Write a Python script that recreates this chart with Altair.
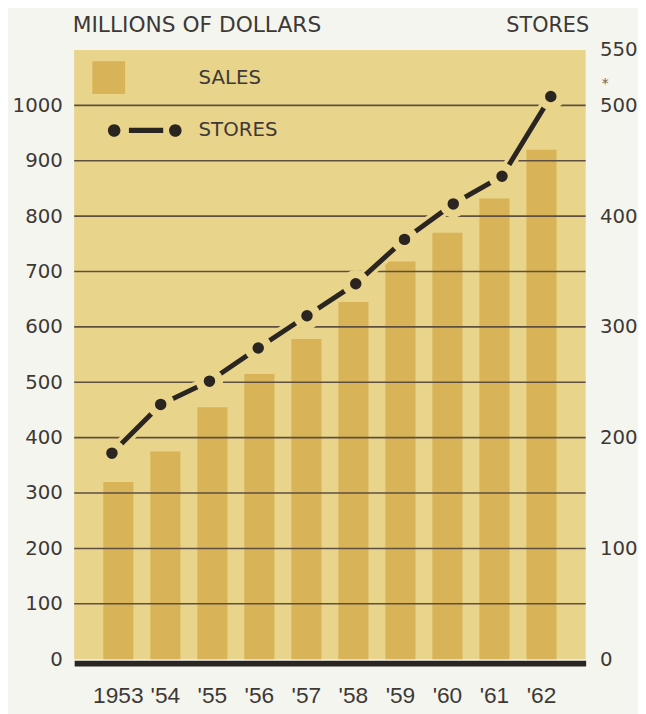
import altair as alt
import pandas as pd

# ---- data ----
years = ["1953", "'54", "'55", "'56", "'57", "'58", "'59", "'60", "'61", "'62"]
sales = [320, 375, 455, 515, 578, 645, 718, 770, 832, 920]          # millions of dollars
stores = [186, 230, 251, 281, 310, 339, 379, 411, 436, 508]         # number of stores
sales_grid = [100, 200, 300, 400, 500, 600, 700, 800, 900, 1000]
sales_ticks = [0, 100, 200, 300, 400, 500, 600, 700, 800, 900, 1000]
store_ticks = [0, 100, 200, 300, 400, 500, 550]
footnote_year = ["'62"]
footnote_value = [508]
footnote_mark = ["*"]

# ---- styling ----
BG = "#E9D48B"
BAR = "#D8B357"
INK = "#2A2521"
GRID = "#5E4F40"
TEXT = "#3E3934"
PAGE = "#F5F5F0"
FONT = "DejaVu Sans"

df = pd.DataFrame({"year": years, "sales": sales, "stores": stores,
                   "s1": ["SALES"] * len(years), "s2": ["STORES"] * len(years)})
grid_df = pd.DataFrame({"v": sales_grid})
note_df = pd.DataFrame({"year": footnote_year, "stores": footnote_value, "t": footnote_mark})

left_axis = alt.Axis(
    orient="left", values=sales_ticks, format="d", title="MILLIONS OF DOLLARS",
    titleAngle=0, titleAlign="left", titleBaseline="alphabetic", titleX=-2, titleY=-19,
    titleFont=FONT, titleFontSize=22, titleFontWeight="normal", titleColor=TEXT,
    grid=False, domain=False, ticks=False, labelPadding=12,
    labelFont=FONT, labelFontSize=20, labelColor=TEXT,
)
sales_scale = alt.Scale(domain=[0, 1100], nice=False, zero=True)

x_band = alt.X(
    "year:N", sort=years,
    scale=alt.Scale(paddingInner=0.36, paddingOuter=0.62),
    axis=alt.Axis(title=None, labelAngle=0, ticks=False, tickSize=0, grid=False,
                  domainColor=INK, domainWidth=6, offset=4,
                  labelPadding=40, labelBaseline="alphabetic",
                  labelFont="Liberation Sans", labelFontSize=23, labelColor=TEXT),
)

bars = alt.Chart(df).mark_bar().encode(
    x=x_band,
    y=alt.Y("sales:Q", scale=sales_scale, axis=left_axis),
    fill=alt.Fill("s1:N", scale=alt.Scale(domain=["SALES"], range=[BAR]),
                  legend=alt.Legend(title=None, orient="none", legendX=18, legendY=11,
                                    symbolType="square", symbolSize=1100, symbolStrokeWidth=0,
                                    labelOffset=74, labelFont=FONT, labelFontSize=20,
                                    labelColor=TEXT, padding=0)),
)

rules = alt.Chart(grid_df).mark_rule(color=GRID, strokeWidth=1.6).encode(
    y=alt.Y("v:Q", scale=sales_scale, axis=left_axis),
)

left = alt.layer(bars, rules)

# ---- stores line ----
right_axis = alt.Axis(
    orient="right", values=store_ticks, title="STORES",
    titleAngle=0, titleAlign="right", titleBaseline="alphabetic", titleX=3, titleY=-19,
    titleFont=FONT, titleFontSize=21, titleFontWeight="normal", titleColor=TEXT,
    grid=False, domain=False, ticks=False, labelPadding=14,
    labelFont=FONT, labelFontSize=20, labelColor=TEXT,
)
y_st = alt.Y("stores:Q", scale=alt.Scale(domain=[0, 550], nice=False, zero=True), axis=right_axis)
x_pt = alt.X("year:N", sort=years, scale=alt.Scale(type="point", padding=0.745, align=0.52), axis=None)

halo_line = alt.Chart(df).mark_line(stroke=BG, strokeWidth=12).encode(x=x_pt, y=y_st)
line = alt.Chart(df).mark_line(stroke=INK, strokeWidth=5, strokeCap="butt").encode(x=x_pt, y=y_st)
halo_pts = alt.Chart(df).mark_point(shape="circle", filled=True, size=760, fill=BG,
                                    strokeWidth=0, opacity=1).encode(x=x_pt, y=y_st)

legend_path = ("M-1,0A0.17,0.17,0,1,0,-0.66,0A0.17,0.17,0,1,0,-1,0Z"
               "M-0.43,-0.07L0.5,-0.07L0.5,0.07L-0.43,0.07Z"
               "M0.66,0A0.17,0.17,0,1,0,1,0A0.17,0.17,0,1,0,0.66,0Z")
pts = alt.Chart(df).mark_circle(size=135, opacity=1).encode(
    x=x_pt, y=y_st,
    color=alt.Color("s2:N", scale=alt.Scale(domain=["STORES"], range=[INK]),
                    legend=alt.Legend(title=None, orient="none", legendX=34, legendY=44,
                                      symbolType=legend_path, symbolSize=5565,
                                      symbolStrokeWidth=0, symbolOpacity=1,
                                      labelOffset=17, labelFont=FONT, labelFontSize=20,
                                      labelColor=TEXT, padding=0)),
)
note = alt.Chart(note_df).mark_text(dx=55, dy=-13, fontSize=14, font=FONT, color="#6E6356").encode(
    x=x_pt, y=y_st, text="t:N")

right = alt.layer(halo_line, line, halo_pts, pts, note)

chart = alt.layer(left, right).resolve_scale(y="independent", x="independent").properties(
    width=518, height=617,
    padding={"left": 67, "top": 38, "right": 53, "bottom": 51},
    autosize=alt.AutoSizeParams(type="none"),
    background=PAGE,
).configure_view(fill=BG, stroke=None)

chart.save("out.html", embed_options={"renderer": "svg", "actions": False})
